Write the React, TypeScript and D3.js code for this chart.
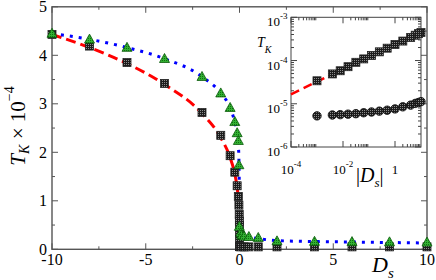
import React from 'react';
import * as d3 from 'd3';

// ---- main panel data (T_K in units of 1e-4) ----
const negDs = [-10, -8, -6, -4, -2, -1, -0.5, -0.25, -0.125, -0.0625, -0.03125, -0.0156, -0.0078, -0.0039, -0.001];
const negSquareTK = [4.43, 4.19, 3.85, 3.42, 2.82, 2.35, 1.93, 1.59, 1.31, 1.09, 0.91, 0.72, 0.58, 0.49, 0.34];
const zeroSquareDs = [0];
const zeroSquareTK = [0.2];
const posDs = [0.001, 0.0039, 0.0156, 0.0625, 0.25, 0.5, 1, 2, 4, 6, 8, 10];
const posSquareTK = [0.06, 0.055, 0.055, 0.05, 0.05, 0.05, 0.05, 0.05, 0.05, 0.05, 0.05, 0.05];
const triDs = [-10, -8, -6, -4, -2, -1, -0.5, -0.25, -0.125, -0.0625, -0.03125, -0.0078, 0.0625, 0.125, 0.25, 0.5, 1, 2, 4, 6, 8, 10];
const triTK = [4.45, 4.33, 4.16, 3.93, 3.56, 3.22, 2.92, 2.63, 2.4, 2.24, 1.74, 0.47, 0.34, 0.29, 0.27, 0.26, 0.24, 0.17, 0.16, 0.155, 0.15, 0.145];
const redLineDs = [-10, -8, -6, -4, -2, -1, -0.5, -0.25, -0.125, -0.0625, -0.03];
const redLineTK = [4.43, 4.16, 3.83, 3.4, 2.8, 2.3, 1.89, 1.55, 1.27, 1.04, 0.85];
const blueLineDs = [-10, -8, -6, -4, -2, -1, -0.5, -0.25, -0.125, -0.0625, -0.03125, -0.015, -0.006, -0.001, 0.01, 0.06, 0.25, 0.5, 1, 2, 4, 6, 8, 10];
const blueLineTK = [4.45, 4.33, 4.16, 3.93, 3.56, 3.22, 2.92, 2.62, 2.39, 2.15, 1.85, 1.45, 0.95, 0.5, 0.33, 0.3, 0.27, 0.25, 0.22, 0.18, 0.16, 0.15, 0.14, 0.13];
const xMajor = [-10, -5, 0, 5, 10];
const xMinor = [-7.5, -2.5, 2.5, 7.5];
const yMajor = [0, 1, 2, 3, 4, 5];
const yMinor = [0.5, 1.5, 2.5, 3.5, 4.5];

// ---- inset data ----
const circDs = [0.001, 0.0039, 0.0078, 0.0156, 0.03125, 0.0625, 0.125, 0.25, 0.5, 1, 2, 4, 6, 8, 10];
const circTK = [5.25e-6, 5.5e-6, 5.6e-6, 5.75e-6, 5.9e-6, 6.2e-6, 6.45e-6, 6.75e-6, 7.1e-6, 7.6e-6, 8.5e-6, 9.3e-6, 1.02e-5, 1.07e-5, 1.12e-5];
const redInsetDs = [1e-4, 10];
const redInsetTK = [1.66e-5, 4.8e-4];
const insetXMajor = [1e-4, 1e-2, 1];
const insetXLabels = ['10|-4', '10|-2', '1'];
const insetYMajor = [1e-6, 1e-5, 1e-4, 1e-3];
const insetYLabels = ['10|-6', '10|-5', '10|-4', '10|-3'];

const FONT = 'Liberation Serif, Times New Roman, serif';
const AX = '#555';

export default function App() {
  const x = d3.scaleLinear().domain([-10, 10]).range([52, 427]);
  const y = d3.scaleLinear().domain([0, 5]).range([249.3, 6.8]);
  const xi = d3.scaleLog().domain([1e-4, 10]).range([291, 421]);
  const yi = d3.scaleLog().domain([1e-6, 1e-3]).range([147, 17.3]);

  const redLine = d3.line<number>().x((d, i) => x(redLineDs[i])).y(d => y(d)).curve(d3.curveMonotoneX)(redLineTK) || '';
  const blueLine = d3.line<number>().x((d, i) => x(blueLineDs[i])).y(d => y(d)).curve(d3.curveMonotoneX)(blueLineTK) || '';
  const redInset = d3.line<number>().x((d, i) => xi(redInsetDs[i])).y(d => yi(d))(redInsetTK) || '';

  const [x0, x1] = x.range();
  const [y0, y1] = y.range();
  const [ix0, ix1] = xi.range();
  const [iy0, iy1] = yi.range();

  const sq = (cx: number, cy: number, k: string) => (
    <rect key={k} x={cx - 4} y={cy - 4} width={8} height={8} fill="url(#sqp)" stroke="#222" strokeWidth={0.8} />
  );
  const tri = (cx: number, cy: number, k: string) => (
    <path key={k} d={`M${cx},${cy - 5.2}L${cx + 5},${cy + 3.8}L${cx - 5},${cy + 3.8}Z`} fill="url(#trp)" stroke="#0b5d0b" strokeWidth={0.8} />
  );

  const insetXMinor: number[] = [];
  [1e-4, 1e-2, 1].forEach(b => { for (let k = 2; k <= 9; k++) insetXMinor.push(b * k); });
  const insetYMinor: number[] = [];
  [1e-6, 1e-5, 1e-4].forEach(b => { for (let k = 2; k <= 9; k++) insetYMinor.push(b * k); });

  const supLabel = (s: string, big: number, small: number, dy: number) => {
    const [b, e] = s.split('|');
    return (
      <>
        <tspan fontSize={big}>{b}</tspan>
        {e !== undefined && <tspan fontSize={small} dy={-dy}>{e}</tspan>}
      </>
    );
  };

  return (
    <svg width={436} height={280} style={{ position: 'absolute', left: 0, top: 0, background: '#fff' }} fontFamily={FONT}>
      <defs>
        <pattern id="sqp" width={2} height={2} patternUnits="userSpaceOnUse">
          <rect width={2} height={2} fill="#1c1c1c" />
          <rect width={1} height={1} fill="#8c8c8c" />
        </pattern>
        <pattern id="trp" width={2} height={2} patternUnits="userSpaceOnUse">
          <rect width={2} height={2} fill="#33b033" />
          <rect width={1} height={1} fill="#0f700f" />
        </pattern>
      </defs>

      {/* main frame */}
      <rect x={x0} y={y1} width={x1 - x0} height={y0 - y1} fill="none" stroke={AX} strokeWidth={1.4} />
      {xMajor.map(v => (
        <g key={'xM' + v}>
          <line x1={x(v)} x2={x(v)} y1={y0} y2={y0 - 6} stroke={AX} />
          <line x1={x(v)} x2={x(v)} y1={y1} y2={y1 + 6} stroke={AX} />
          <text x={x(v)} y={265} fontSize={16} textAnchor="middle">{v}</text>
        </g>
      ))}
      {xMinor.map(v => (
        <g key={'xm' + v}>
          <line x1={x(v)} x2={x(v)} y1={y0} y2={y0 - 3} stroke={AX} />
          <line x1={x(v)} x2={x(v)} y1={y1} y2={y1 + 3} stroke={AX} />
        </g>
      ))}
      {yMajor.map(v => (
        <g key={'yM' + v}>
          <line x1={x0} x2={x0 + 6} y1={y(v)} y2={y(v)} stroke={AX} />
          <line x1={x1} x2={x1 - 6} y1={y(v)} y2={y(v)} stroke={AX} />
          <text x={47} y={y(v) + 5.5} fontSize={16} textAnchor="end">{v}</text>
        </g>
      ))}
      {yMinor.map(v => (
        <g key={'ym' + v}>
          <line x1={x0} x2={x0 + 3} y1={y(v)} y2={y(v)} stroke={AX} />
          <line x1={x1} x2={x1 - 3} y1={y(v)} y2={y(v)} stroke={AX} />
        </g>
      ))}

      {/* axis labels */}
      <text x={372} y={272} fontSize={22}>
        <tspan fontStyle="italic">D</tspan>
        <tspan fontStyle="italic" fontSize={15} dy={6}>s</tspan>
      </text>
      <g transform="translate(24.5,126) rotate(-90)">
        <text x={0} y={0} fontSize={21} textAnchor="middle">
          <tspan fontStyle="italic">T</tspan>
          <tspan fontStyle="italic" fontSize={14} dy={4}>K</tspan>
          <tspan dy={-4}> × 10</tspan>
          <tspan fontSize={14} dy={-11}>−4</tspan>
        </text>
      </g>

      {/* curves */}
      <path d={redLine} fill="none" stroke="#ff0000" strokeWidth={3} strokeDasharray="10 5" />
      <path d={blueLine} fill="none" stroke="#0000ff" strokeWidth={3} strokeDasharray="3 6" />

      {/* markers */}
      {negDs.map((d, i) => sq(x(d), y(negSquareTK[i]), 'ns' + i))}
      {zeroSquareDs.map((d, i) => sq(x(d), y(zeroSquareTK[i]), 'zs' + i))}
      {posDs.map((d, i) => sq(x(d), y(posSquareTK[i]), 'ps' + i))}
      {triDs.map((d, i) => tri(x(d), y(triTK[i]), 't' + i))}

      {/* inset */}
      <rect x={ix0} y={iy1} width={ix1 - ix0} height={iy0 - iy1} fill="#fff" stroke="#444" strokeWidth={1} />
      {insetXMajor.map((v, i) => (
        <g key={'ixM' + v}>
          <line x1={xi(v)} x2={xi(v)} y1={iy0} y2={iy0 - 6} stroke="#444" />
          <line x1={xi(v)} x2={xi(v)} y1={iy1} y2={iy1 + 6} stroke="#444" />
          <text x={xi(v)} y={174} textAnchor="middle">{supLabel(insetXLabels[i], 13, 9, 7)}</text>
        </g>
      ))}
      {insetXMinor.map(v => (
        <g key={'ixm' + v}>
          <line x1={xi(v)} x2={xi(v)} y1={iy0} y2={iy0 - 3} stroke="#444" />
          <line x1={xi(v)} x2={xi(v)} y1={iy1} y2={iy1 + 3} stroke="#444" />
        </g>
      ))}
      {insetYMajor.map((v, i) => (
        <g key={'iyM' + v}>
          <line x1={ix0} x2={ix0 + 6} y1={yi(v)} y2={yi(v)} stroke="#444" />
          <line x1={ix1} x2={ix1 - 6} y1={yi(v)} y2={yi(v)} stroke="#444" />
          <text x={287.5} y={yi(v) + 9} textAnchor="end">{supLabel(insetYLabels[i], 13, 9, 7)}</text>
        </g>
      ))}
      {insetYMinor.map(v => (
        <g key={'iym' + v}>
          <line x1={ix0} x2={ix0 + 3} y1={yi(v)} y2={yi(v)} stroke="#444" />
          <line x1={ix1} x2={ix1 - 3} y1={yi(v)} y2={yi(v)} stroke="#444" />
        </g>
      ))}
      <text x={257} y={47} fontSize={14}>
        <tspan fontStyle="italic">T</tspan>
        <tspan fontStyle="italic" fontSize={10} dy={6}>K</tspan>
      </text>
      <text x={356} y={182} fontSize={20}>
        <tspan>|</tspan>
        <tspan fontStyle="italic">D</tspan>
        <tspan fontStyle="italic" fontSize={13} dy={5}>s</tspan>
        <tspan dy={-5}>|</tspan>
      </text>
      <path d={redInset} fill="none" stroke="#ff0000" strokeWidth={2.5} strokeDasharray="9 5" />
      {negDs.map((d, i) => sq(xi(Math.abs(d)), yi(negSquareTK[i] * 1e-4), 'is' + i))}
      {circDs.map((d, i) => (
        <circle key={'c' + i} cx={xi(d)} cy={yi(circTK[i])} r={4.2} fill="url(#sqp)" stroke="#111" strokeWidth={0.9} />
      ))}
    </svg>
  );
}
